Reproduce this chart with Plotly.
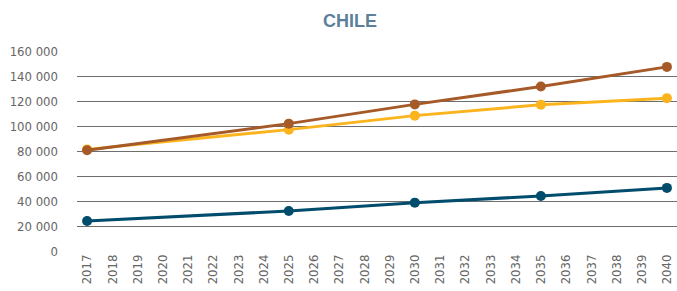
import plotly.graph_objects as go

years = [2017, 2025, 2030, 2035, 2040]
tick_years = list(range(2017, 2041))
series_brown = [80600, 101900, 117300, 131600, 147300]
series_yellow = [81300, 97100, 108300, 117000, 122300]
series_blue = [24000, 32000, 38700, 44000, 50500]

fig = go.Figure()
for vals, col in [(series_blue, "#004C6D"), (series_yellow, "#FBB41D"), (series_brown, "#A65A28")]:
    fig.add_trace(go.Scatter(x=years, y=vals, mode="lines+markers",
                             line=dict(color=col, width=3),
                             marker=dict(color=col, size=10),
                             cliponaxis=False,
                             showlegend=False))

font = "Liberation Sans Narrow, DejaVu Sans Condensed, Arial Narrow, sans-serif"
fig.update_layout(
    width=677, height=291,
    margin=dict(l=77, r=0, t=51, b=40),
    paper_bgcolor="white", plot_bgcolor="white",
    separators=". ",
    font=dict(family=font, size=13, color="#666666"),
    title=dict(text="<b>CHILE</b>", x=350/677, xanchor="center", y=1-21/291, yanchor="middle",
               font=dict(family="Liberation Sans, Arial, sans-serif", size=18, color="#5E7F99")),
    xaxis=dict(range=[2016.6, 2040.4], tickmode="array", tickvals=tick_years,
               ticktext=[str(y) for y in tick_years], tickangle=-90,
               showgrid=False, zeroline=False, showline=False, ticks=""),
    yaxis=dict(range=[0, 160000], tickvals=list(range(0, 160001, 20000)), tickformat=",d",
               showgrid=True, gridcolor="#6E6E6E", gridwidth=1.3, zeroline=False,
               ticks="", ticklabelstandoff=18),
)
fig.write_html("out.html", config={"displayModeBar": False},
               post_script="document.body.style.margin='0';document.body.style.overflow='hidden';")
